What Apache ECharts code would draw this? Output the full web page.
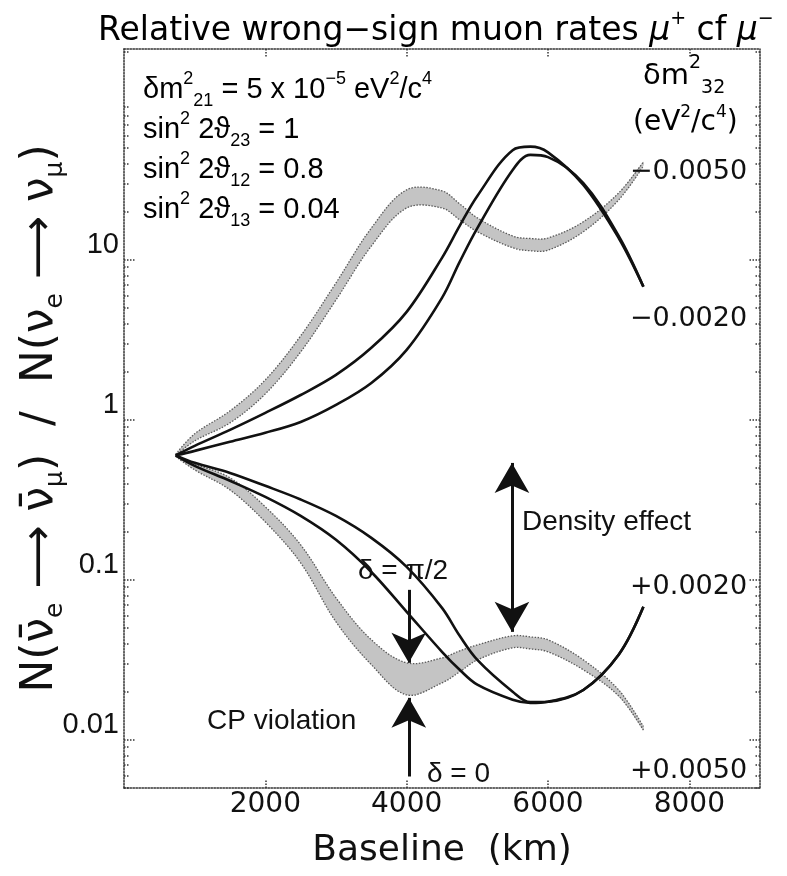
<!DOCTYPE html>
<html>
<head>
<meta charset="utf-8">
<script src="https://cdn.jsdelivr.net/npm/echarts@6/dist/echarts.min.js"></script>
<style>
  html, body { margin: 0; padding: 0; background: #fff; }
  #main { width: 787px; height: 876px; }
</style>
</head>
<body>
<div id="main"></div>
<script>
  // baseline (km)
  const baseline = [732, 1000, 1500, 2000, 2500, 3000, 3500, 4000, 4500, 4750, 5000, 5500, 5750, 6000, 6500, 7000, 7350];

  // dm2_32 = -0.0020 : two black lines (delta = 0, pi/2)
  const invA = [0.60, 0.688, 0.866, 1.106, 1.43, 1.91, 2.82, 4.73, 10.3, 16.3, 25.1, 48.5, 51, 47, 29.4, 13.7, 6.8];
  const invB = [0.60, 0.64, 0.73, 0.83, 0.97, 1.24, 1.70, 2.74, 5.79, 9.72, 15.8, 36.5, 45.3, 43.9, 30.2, 14.1, 6.8];
  // dm2_32 = -0.0050 : grey band (lower / upper edge)
  const invBandLo = [0.60, 0.739, 0.958, 1.454, 2.66, 5.62, 12.2, 21.1, 21.1, 17.8, 15.0, 11.9, 11.4, 11.5, 15.0, 23.7, 38.6];
  const invBandHi = [0.61, 0.818, 1.138, 1.778, 3.35, 7.18, 15.8, 27.4, 27.0, 22.4, 18.3, 14.1, 13.6, 13.7, 17.3, 26.2, 41.0];

  // dm2_32 = +0.0020 : two black lines
  const norC = [0.60, 0.516, 0.416, 0.330, 0.251, 0.178, 0.112, 0.0631, 0.0355, 0.0274, 0.0221, 0.0178, 0.0170, 0.0173, 0.0205, 0.034, 0.0678];
  const norD = [0.60, 0.539, 0.466, 0.387, 0.318, 0.251, 0.183, 0.1206, 0.0668, 0.0447, 0.0316, 0.020, 0.0172, 0.0173, 0.0205, 0.034, 0.0678];
  // dm2_32 = +0.0050 : grey band
  const norBandLo = [0.59, 0.487, 0.365, 0.230, 0.1277, 0.0546, 0.0295, 0.0191, 0.0227, 0.0266, 0.0316, 0.0376, 0.0370, 0.0355, 0.0274, 0.0188, 0.0115];
  const norBandHi = [0.60, 0.531, 0.434, 0.286, 0.1655, 0.0772, 0.0422, 0.0303, 0.0325, 0.036, 0.0392, 0.0447, 0.0440, 0.0422, 0.0316, 0.0205, 0.0121];

  const xTicks = [2000, 4000, 6000, 8000];
  const yTicks = [0.01, 0.1, 1, 10];
  const yMin = 0.005, yMax = 208;

  // minor log ticks 2..9 per decade
  const yMinorTicks = [];
  for (let e = -3; e <= 2; e++) {
    for (let m = 2; m <= 9; m++) {
      const v = +(m * Math.pow(10, e)).toPrecision(3);
      if (v >= yMin && v <= yMax) yMinorTicks.push(v);
    }
  }

  // annotation arrows [from, to] in data coords
  const cpArrowDown = [[4030, 0.0866], [4030, 0.0303]];
  const cpArrowUp = [[4030, 0.0059], [4030, 0.0183]];
  const densityArrow = [[5490, 0.0473], [5490, 0.538]];

  const pairs = ys => baseline.map((x, i) => [x, ys[i]]);
  const triples = (lo, hi) => baseline.map((x, i) => [x, lo[i], hi[i]]);

  const dotted = { color: '#333', type: 'dotted', width: 1.5 };
  const black = { color: '#111', width: 2.6 };
  const SMOOTH = 0.35;

  // grey band between two edges, drawn once as one smoothed polygon
  const bandRender = function (params, api) {
    if (params.dataIndexInside !== 0) return;
    const n = params.dataInsideLength;
    const top = [], bot = [];
    for (let i = 0; i < n; i++) {
      top.push(api.coord([api.value(0, i), api.value(2, i)]));
      bot.push(api.coord([api.value(0, i), api.value(1, i)]));
    }
    const edge = { stroke: '#5a5a5a', lineWidth: 1.3, lineDash: [1.5, 1.5], fill: null };
    return {
      type: 'group',
      children: [
        { type: 'polygon', shape: { points: top.concat(bot.slice().reverse()), smooth: SMOOTH }, style: { fill: '#c4c4c4' } },
        { type: 'polyline', shape: { points: top, smooth: SMOOTH }, style: edge },
        { type: 'polyline', shape: { points: bot, smooth: SMOOTH }, style: edge }
      ]
    };
  };

  const chart = echarts.init(document.getElementById('main'));

  const subRich = {
    m: { fontSize: 29, fontFamily: 'Liberation Sans', color: '#111', lineHeight: 40 },
    sup: { fontSize: 18, fontFamily: 'Liberation Sans', color: '#111', verticalAlign: 'top', lineHeight: 22 },
    sub: { fontSize: 18, fontFamily: 'Liberation Sans', color: '#111', verticalAlign: 'bottom', lineHeight: 18 }
  };

  const lineSeries = data => ({
    type: 'line', data: data, symbol: 'none', smooth: SMOOTH,
    lineStyle: black, silent: true, z: 3
  });

  const txt = (left, top, text, font) => ({
    type: 'text', left: left, top: top, z: 100,
    style: { text: text, font: font, fill: '#111', verticalAlign: 'middle' }
  });

  chart.setOption({
    animation: false,
    grid: { left: 124, right: 27, top: 49, bottom: 88, outerBoundsMode: 'none', containLabel: false },
    xAxis: [{
      type: 'value', min: 0, max: 9000, position: 'bottom', z: 10,
      name: 'Baseline  (km)', nameLocation: 'middle', nameGap: 45, nameMoveOverlap: false,
      nameTextStyle: { fontSize: 36, fontFamily: 'DejaVu Sans', color: '#111' },
      axisLine: { lineStyle: dotted },
      axisTick: { inside: true, length: 9, customValues: xTicks, lineStyle: dotted },
      axisLabel: { customValues: xTicks, fontSize: 28, fontFamily: 'DejaVu Sans', color: '#111', margin: 3, formatter: v => String(v) },
      splitLine: { show: false }
    }, {
      type: 'value', min: 0, max: 9000, position: 'top', z: 10,
      axisLine: { lineStyle: dotted },
      axisTick: { inside: true, length: 9, customValues: xTicks, lineStyle: dotted },
      axisLabel: { show: false }, splitLine: { show: false }
    }],
    yAxis: [{
      type: 'log', logBase: 10, min: yMin, max: yMax, position: 'left', z: 10,
      name: '{n|N(}{n|ν\u0304}{s|e}{n| ⟶ }{n|ν\u0304}{s|μ}{n|)  /  N(ν}{s|e}{n| ⟶ ν}{s|μ}{n|)}',
      nameLocation: 'middle', nameGap: 56, nameRotate: 90, nameMoveOverlap: false,
      nameTextStyle: {
        rich: {
          n: { fontSize: 44, fontFamily: 'DejaVu Sans', color: '#111', lineHeight: 54 },
          s: { fontSize: 25, fontFamily: 'DejaVu Sans', color: '#111', verticalAlign: 'bottom', lineHeight: 26 }
        }
      },
      axisLine: { lineStyle: dotted },
      axisTick: { inside: true, length: 11, customValues: yTicks, lineStyle: dotted },
      axisLabel: {
        customValues: yTicks, fontSize: 29, fontFamily: 'Liberation Sans', color: '#111',
        margin: 5, verticalAlign: 'bottom', formatter: v => String(v)
      },
      splitLine: { show: false }
    }, {
      type: 'log', logBase: 10, min: yMin, max: yMax, position: 'left', z: 10,
      axisLine: { show: false },
      axisTick: { inside: true, length: 5, customValues: yMinorTicks, lineStyle: dotted },
      axisLabel: { show: false }, splitLine: { show: false }
    }, {
      type: 'log', logBase: 10, min: yMin, max: yMax, position: 'right', z: 10,
      axisLine: { lineStyle: dotted },
      axisTick: { inside: true, length: 11, customValues: yTicks, lineStyle: dotted },
      axisLabel: { show: false }, splitLine: { show: false }
    }, {
      type: 'log', logBase: 10, min: yMin, max: yMax, position: 'right', z: 10,
      axisLine: { show: false },
      axisTick: { inside: true, length: 5, customValues: yMinorTicks, lineStyle: dotted },
      axisLabel: { show: false }, splitLine: { show: false }
    }],
    series: [
      { type: 'custom', data: triples(invBandLo, invBandHi), encode: { x: 0, y: [1, 2] }, renderItem: bandRender, silent: true, z: 1 },
      { type: 'custom', data: triples(norBandLo, norBandHi), encode: { x: 0, y: [1, 2] }, renderItem: bandRender, silent: true, z: 1 },
      lineSeries(pairs(invA)),
      lineSeries(pairs(invB)),
      lineSeries(pairs(norC)),
      lineSeries(pairs(norD)),
      {
        type: 'line', data: [], z: 5, silent: true,
        markLine: {
          silent: true, animation: false,
          symbol: ['none', 'arrow'], symbolSize: [26, 30],
          label: { show: false },
          lineStyle: { color: '#111', width: 3, type: 'solid' },
          data: [
            [{ coord: cpArrowDown[0] }, { coord: cpArrowDown[1] }],
            [{ coord: cpArrowUp[0] }, { coord: cpArrowUp[1] }],
            [{ coord: densityArrow[0], symbol: 'arrow' }, { coord: densityArrow[1] }]
          ]
        }
      }
    ],
    graphic: [
      {
        type: 'text', left: 98, top: 10, z: 100,
        style: {
          text: '{t|Relative wrong−sign muon rates }{u|μ}{p|+}{t| cf }{u|μ}{p|−}',
          rich: {
            t: { fontSize: 33, fontFamily: 'DejaVu Sans', color: '#111', lineHeight: 42 },
            u: { fontSize: 33, fontFamily: 'DejaVu Sans', fontStyle: 'italic', color: '#111', lineHeight: 42 },
            p: { fontSize: 19, fontFamily: 'DejaVu Sans', color: '#111', verticalAlign: 'top', lineHeight: 22 }
          }
        }
      },
      {
        type: 'text', left: 143, top: 70, z: 100,
        style: {
          text: '{m|δm}{sup|2}{sub|21}{m| = 5 x 10}{sup|−5}{m| eV}{sup|2}{m|/c}{sup|4}\n' +
                '{m|sin}{sup|2}{m| 2ϑ}{sub|23}{m| = 1}\n' +
                '{m|sin}{sup|2}{m| 2ϑ}{sub|12}{m| = 0.8}\n' +
                '{m|sin}{sup|2}{m| 2ϑ}{sub|13}{m| = 0.04}',
          rich: subRich
        }
      },
      {
        type: 'text', left: 643, top: 54, z: 100,
        style: {
          text: '{m|δm}{sup|2}{sub|32}',
          rich: {
            m: { fontSize: 29, fontFamily: 'DejaVu Sans', color: '#111', lineHeight: 44 },
            sup: { fontSize: 19, fontFamily: 'DejaVu Sans', color: '#111', verticalAlign: 'top', lineHeight: 22 },
            sub: { fontSize: 19, fontFamily: 'DejaVu Sans', color: '#111', verticalAlign: 'bottom', lineHeight: 20 }
          }
        }
      },
      {
        type: 'text', left: 633, top: 104, z: 100,
        style: {
          text: '{m|(eV}{sup|2}{m|/c}{sup|4}{m|)}',
          rich: {
            m: { fontSize: 28, fontFamily: 'DejaVu Sans', color: '#111', lineHeight: 38 },
            sup: { fontSize: 17, fontFamily: 'DejaVu Sans', color: '#111', verticalAlign: 'top', lineHeight: 20 }
          }
        }
      },
      txt(630, 158, '−0.0050', '27px "DejaVu Sans"'),
      txt(630, 305, '−0.0020', '27px "DejaVu Sans"'),
      txt(630, 573, '+0.0020', '27px "DejaVu Sans"'),
      txt(630, 757, '+0.0050', '27px "DejaVu Sans"'),
      txt(522, 508, 'Density effect', '28px "Liberation Sans"'),
      txt(358, 557, 'δ = π/2', '28px "Liberation Sans"'),
      txt(207, 707, 'CP violation', '28px "Liberation Sans"'),
      txt(427, 760, 'δ = 0', '28px "Liberation Sans"')
    ]
  });

  window.onresize = function () {
    chart.resize();
  };
</script>
</body>
</html>
